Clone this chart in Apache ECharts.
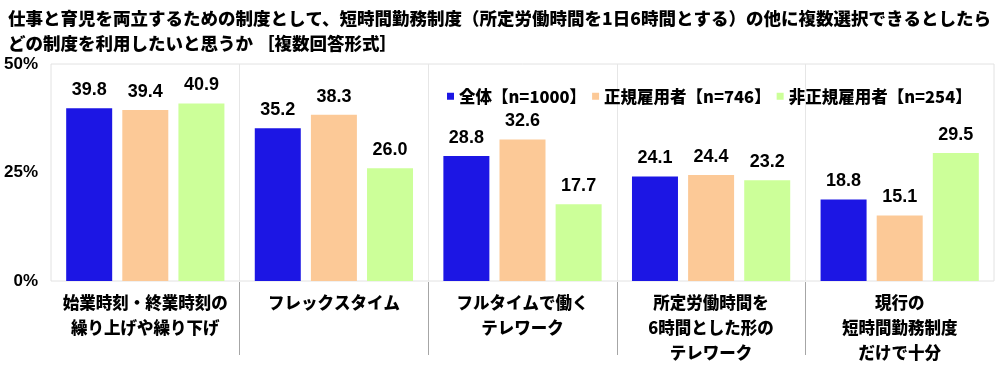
<!DOCTYPE html>
<html>
<head>
<meta charset="utf-8">
<script src="https://cdn.jsdelivr.net/npm/echarts@6/dist/echarts.min.js"></script>
<style>html,body{margin:0;padding:0;background:#fff;}#c{width:1000px;height:365px;}</style>
</head>
<body>
<div id="c"></div>
<script>
const titleText = '仕事と育児を両立するための制度として、短時間勤務制度（所定労働時間を1日6時間とする）の他に複数選択できるとしたら\nどの制度を利用したいと思うか ［複数回答形式］';
const categories = [
  '始業時刻・終業時刻の\n繰り上げや繰り下げ',
  'フレックスタイム',
  'フルタイムで働く\nテレワーク',
  '所定労働時間を\n6時間とした形の\nテレワーク',
  '現行の\n短時間勤務制度\nだけで十分'
];
const seriesNames = ['全体【n=1000】', '正規雇用者【n=746】', '非正規雇用者【n=254】'];
const allValues = [39.8, 35.2, 28.8, 24.1, 18.8];
const regularValues = [39.4, 38.3, 32.6, 24.4, 15.1];
const nonRegularValues = [40.9, 26.0, 17.7, 23.2, 29.5];
const yTicks = [0, 25, 50];
const colors = ['#1c16e4', '#fcc997', '#ccff99'];

const jp = '"Noto Sans CJK JP", sans-serif';
const lat = '"Liberation Sans", Arial, sans-serif';

const chart = echarts.init(document.getElementById('c'), null, {renderer: 'canvas'});
const mk = (name, data, i) => ({
  name, type: 'bar', data, barWidth: 46, barGap: '22%',
  itemStyle: {color: colors[i]},
  label: {show: true, position: 'top', distance: 9, formatter: p => p.value.toFixed(1),
    fontFamily: lat, fontSize: 18, fontWeight: 'bold', color: '#000'}
});
chart.setOption({
  animation: false,
  title: {text: titleText, left: 3, top: 1,
    textStyle: {fontFamily: jp, fontSize: 17.5, fontWeight: 900, color: '#000', lineHeight: 25}},
  legend: {left: 442, top: 83, itemWidth: 7, itemHeight: 7, itemGap: 6, icon: 'rect',
    textStyle: {fontFamily: jp, fontSize: 16.5, fontWeight: 900, color: '#000', padding: [0, 0, 0, 0]},
    data: seriesNames},
  grid: [
    {left: 51, right: 6, top: 64, bottom: 83, show: true, borderColor: '#e2e2e2', borderWidth: 1},
    {left: 51, right: 6, top: 282, height: 73}
  ],
  xAxis: [
    {type: 'category', data: categories, gridIndex: 0,
      axisLine: {show: false}, axisTick: {show: false},
      splitLine: {show: true, showMinLine: false, showMaxLine: false, lineStyle: {color: '#e6e6e6', width: 1}},
      axisLabel: {interval: 0, margin: 9, fontFamily: jp, fontSize: 16.5, fontWeight: 900, color: '#000', lineHeight: 25}},
    {type: 'category', data: categories, gridIndex: 1,
      axisLine: {show: false}, axisTick: {show: false}, axisLabel: {show: false},
      splitLine: {show: true, showMinLine: false, showMaxLine: false, lineStyle: {color: '#a6a6a6', width: 1}}}
  ],
  yAxis: [
    {type: 'value', min: yTicks[0], max: yTicks[yTicks.length - 1], interval: yTicks[1] - yTicks[0], gridIndex: 0,
      axisLine: {show: false}, axisTick: {show: false}, splitLine: {show: false},
      axisLabel: {margin: 13, formatter: v => v + '%', fontFamily: lat, fontSize: 17, fontWeight: 'bold', color: '#000'}},
    {type: 'value', gridIndex: 1, show: false}
  ],
  series: [
    mk(seriesNames[0], allValues, 0),
    mk(seriesNames[1], regularValues, 1),
    mk(seriesNames[2], nonRegularValues, 2)
  ]
});
</script>
</body>
</html>
